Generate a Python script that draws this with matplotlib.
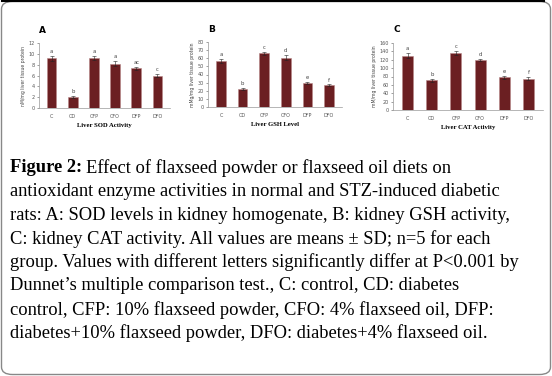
import numpy as np
import matplotlib
matplotlib.use("Agg")
import matplotlib.pyplot as plt
from matplotlib.patches import FancyBboxPatch

# groups shared by all three panels
groups = ["C", "CD", "CFP", "CFO", "DFP", "DFO"]

# panel A: liver SOD activity
sod_mean = [9.2, 2.0, 9.2, 8.2, 7.3, 6.0]
sod_sd = [0.45, 0.15, 0.4, 0.45, 0.35, 0.25]
sod_letters = ["a", "b", "a", "a", "ac", "c"]

# panel B: liver GSH level
gsh_mean = [56.5, 22.5, 66.0, 60.5, 29.5, 26.5]
gsh_sd = [2.5, 1.0, 2.0, 3.0, 1.2, 1.2]
gsh_letters = ["a", "b", "c", "d", "e", "f"]

# panel C: liver CAT activity
cat_mean = [129, 71, 136, 119, 78, 75]
cat_sd = [6, 4, 5, 3, 4, 4]
cat_letters = ["a", "b", "c", "d", "e", "f"]

caption_lines = [
    "Effect of flaxseed powder or flaxseed oil diets on",
    "antioxidant enzyme activities in normal and STZ-induced diabetic",
    "rats: A: SOD levels in kidney homogenate, B: kidney GSH activity,",
    "C: kidney CAT activity. All values are means \u00b1 SD; n=5 for each",
    "group. Values with different letters significantly differ at P<0.001 by",
    "Dunnet\u2019s multiple comparison test., C: control, CD: diabetes",
    "control, CFP: 10% flaxseed powder, CFO: 4% flaxseed oil, DFP:",
    "diabetes+10% flaxseed powder, DFO: diabetes+4% flaxseed oil.",
]

bar_color = "#6b1f22"
W, H = 552, 376


def panel(rect, means, sds, letters, ymax, ystep, letter, ylabel, xlabel):
    ax = fig.add_axes(rect)
    x = np.arange(len(groups))
    ax.bar(x, means, width=0.45, color=bar_color, edgecolor="#b88888", linewidth=0.4,
           yerr=sds, error_kw=dict(ecolor="#222222", elinewidth=0.4, capsize=1.2, capthick=0.4))
    for xi, m, s, lab in zip(x, means, sds, letters):
        ax.text(xi, m + s + ymax * 0.03, lab, ha="center", va="bottom", fontsize=3.8, color="#444444")
    ax.set_xlim(-0.6, len(groups) - 0.4)
    ax.set_ylim(0, ymax)
    ax.set_yticks(np.arange(0, ymax + 0.01, ystep))
    ax.set_xticks(x)
    ax.set_xticklabels(groups)
    ax.tick_params(labelsize=3.5, colors="#555555", length=1.5, width=0.4, pad=1.5)
    ax.tick_params(axis="x", length=0, pad=4)
    for side in ["top", "right"]:
        ax.spines[side].set_visible(False)
    for side in ["left", "bottom"]:
        ax.spines[side].set_color("#999999")
        ax.spines[side].set_linewidth(0.5)
    ax.set_ylabel(ylabel, fontsize=3.3, color="#444444", labelpad=2)
    ax.set_xlabel(xlabel, fontsize=4.8, fontweight="bold", family="Liberation Serif", labelpad=3.5)
    ax.text(0.0, 1.13, letter, transform=ax.transAxes, fontsize=6.5, fontweight="bold", ha="left", va="bottom")
    return ax


fig = plt.figure(figsize=(W / 100, H / 100), dpi=100)

panel([39 / W, 1 - 108 / H, 131 / W, 65 / H], sod_mean, sod_sd, sod_letters, 12, 2, "A",
      "nM/mg liver tissue protein", "Liver SOD Activity")
panel([208 / W, 1 - 107 / H, 134 / W, 65 / H], gsh_mean, gsh_sd, gsh_letters, 80, 10, "B",
      "mMg/mg liver tissue protein", "Liver GSH Level")
panel([393 / W, 1 - 110 / H, 150 / W, 67 / H], cat_mean, cat_sd, cat_letters, 160, 20, "C",
      "mM/mg liver tissue protein", "Liver CAT Activity")

# rounded frame around the figure
frame = FancyBboxPatch((1.5 / W, 1.5 / H), 1 - 3 / W, 1 - 3 / H, boxstyle="round,pad=0,rounding_size=0.02",
                       transform=fig.transFigure, facecolor="none", edgecolor="#888888", linewidth=1.0)
fig.patches.append(frame)
fig.add_artist(plt.Line2D([0.003, 0.985], [0.998, 0.998], color="black", linewidth=1.5))

# caption
fs = 13.3
x0 = 10 / W
y_first = 1 - 168 / H
step = 23.6 / H
bold = fig.text(x0, y_first, "Figure 2:", fontsize=fs, fontweight="bold", family="Liberation Serif", va="center")
fig.canvas.draw()
bb = bold.get_window_extent(fig.canvas.get_renderer())
fig.text(bb.x1 / W + 4 / W, y_first, caption_lines[0], fontsize=fs, family="Liberation Serif", va="center")
for i, line in enumerate(caption_lines[1:], start=1):
    fig.text(x0, y_first - i * step, line, fontsize=fs, family="Liberation Serif", va="center")

fig.savefig("out.png", dpi=100)
